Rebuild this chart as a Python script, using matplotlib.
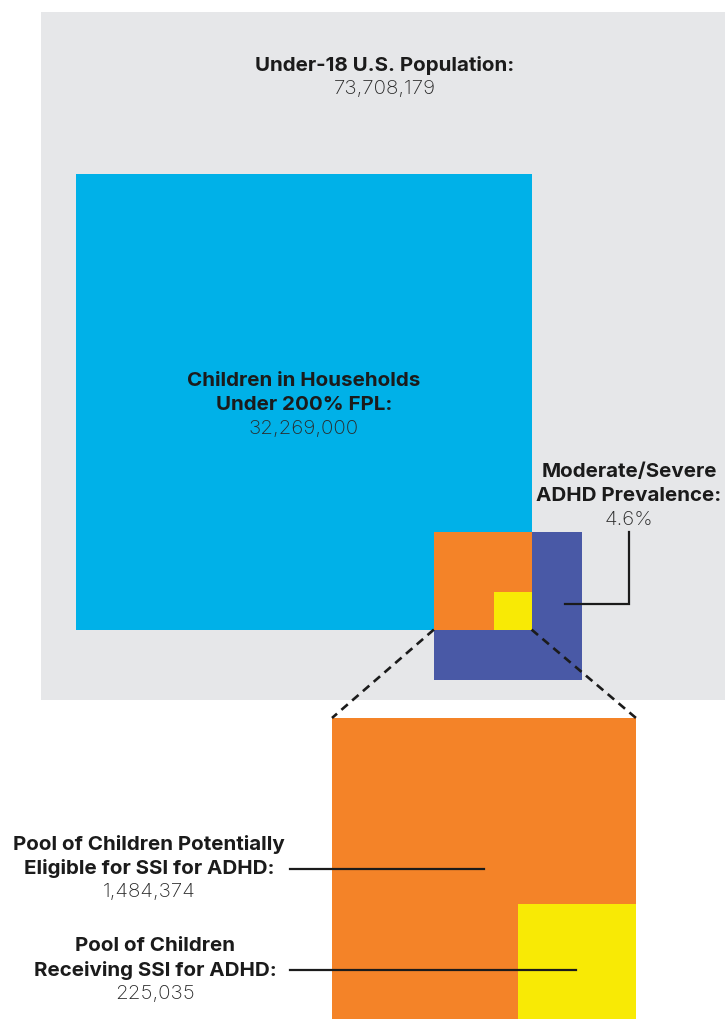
import numpy as np
import matplotlib.pyplot as plt
from matplotlib.patches import Rectangle

# Population counts shown as nested squares (area proportional to count)
under18_population = 73708179
fpl_children = 32269000
adhd_prevalence = 0.046
eligible_pool = 1484374
receiving_pool = 225035

# Colours
GRAY = "#E6E7E9"
BLUE = "#00B1E8"
PURPLE = "#4959A6"
ORANGE = "#F48328"
YELLOW = "#F8EA05"
INK = "#1B1B1B"

BOLD = dict(family=["Inter", "DejaVu Sans"], fontweight="bold", fontsize=14.8, color=INK)
LIGHT = dict(family=["Inter", "DejaVu Sans"], fontweight="light", fontsize=14.8, color="#2a2a2a")

fig = plt.figure(figsize=(7.25, 10.19), dpi=100)
ax = fig.add_axes([0, 0, 1, 1])
ax.set_xlim(0, 725)
ax.set_ylim(1019, 0)
ax.axis("off")

# scale: canvas units per sqrt(person)
k_main = 0.0802
k_zoom = 0.2495

def side(value, k):
    return k * np.sqrt(value)

def square(x, y, s, color):
    ax.add_patch(Rectangle((x, y), s, s, facecolor=color, edgecolor="none"))

# --- main nested view ---
s_pop = side(under18_population, k_main)
s_fpl = side(fpl_children, k_main)
s_adhd = side(adhd_prevalence * under18_population, k_main)
s_elig = side(eligible_pool, k_main)
s_recv = side(receiving_pool, k_main)

gx, gy = 40.7, 11.7
square(gx, gy, s_pop, GRAY)

bx, by = 76, 174
square(bx, by, s_fpl, BLUE)

# eligible square sits in the lower-right corner of the blue square
ex, ey = bx + s_fpl - s_elig, by + s_fpl - s_elig
square(ex, ey, s_adhd, PURPLE)
square(ex, ey, s_elig, ORANGE)
square(ex + s_elig - s_recv, ey + s_elig - s_recv, s_recv, YELLOW)

# --- enlarged view of the eligible pool ---
zx, zy = 332, 718
z_elig = side(eligible_pool, k_zoom)
z_recv = side(receiving_pool, k_zoom)
square(zx, zy, z_elig, ORANGE)
square(zx + z_elig - z_recv, zy + z_elig - z_recv, z_recv, YELLOW)

# dashed connectors from the small square to the enlarged one
dash = (0, (3.2, 2.2))
ax.plot([ex, zx], [ey + s_elig, zy], ls=dash, color=INK, lw=1.9)
ax.plot([ex + s_elig, zx + z_elig], [ey + s_elig, zy], ls=dash, color=INK, lw=1.9)

# --- labels ---
def label(x, y, lines):
    for (txt, style), dy in zip(lines, range(len(lines))):
        ax.text(x, y + dy * 24, txt, ha="center", va="center", **style)

label(385, 65, [("Under-18 U.S. Population:", BOLD), (f"{under18_population:,}", LIGHT)])
label(304, 381, [("Children in Households", BOLD), ("Under 200% FPL:", BOLD),
                 (f"{fpl_children:,}", LIGHT)])
label(629, 472, [("Moderate/Severe", BOLD), ("ADHD Prevalence:", BOLD),
                 (f"{adhd_prevalence * 100:.1f}%", LIGHT)])
label(149, 844, [("Pool of Children Potentially", BOLD), ("Eligible for SSI for ADHD:", BOLD),
                 (f"{eligible_pool:,}", LIGHT)])
label(155, 946, [("Pool of Children", BOLD), ("Receiving SSI for ADHD:", BOLD),
                 (f"{receiving_pool:,}", LIGHT)])

# leader lines
ax.plot([565, 629, 629], [604, 604, 532], color=INK, lw=1.6, solid_joinstyle="miter")
ax.plot([290, 484], [869, 869], color=INK, lw=1.6)
ax.plot([290, 576], [970, 970], color=INK, lw=1.6)

fig.savefig("out.png", dpi=100, facecolor="white")
